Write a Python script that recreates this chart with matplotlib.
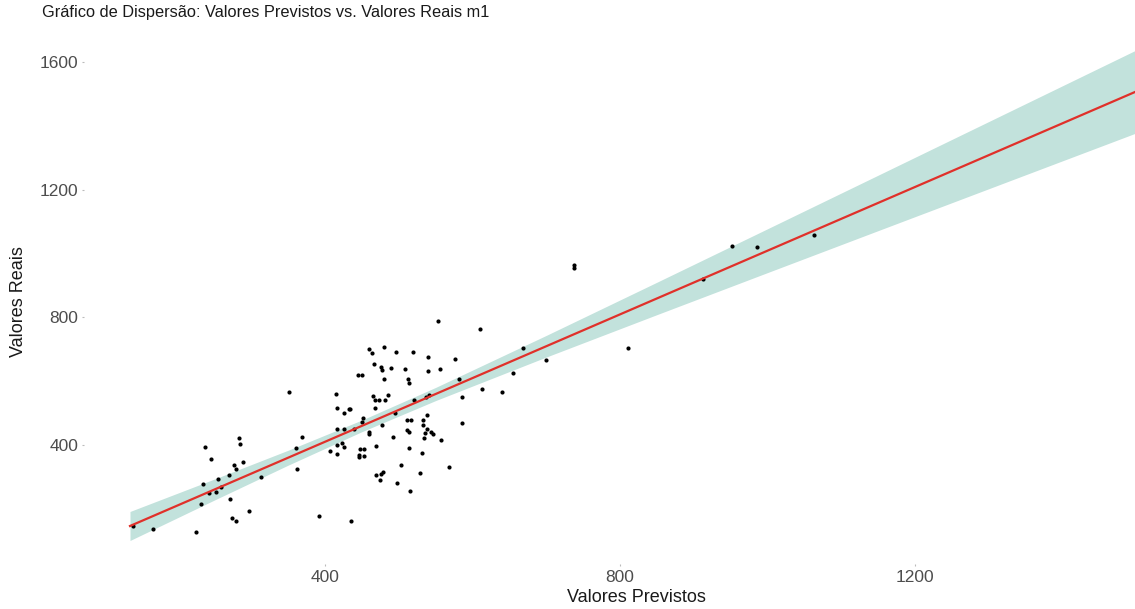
import numpy as np
import matplotlib
matplotlib.use("Agg")
import matplotlib.pyplot as plt

plt.rcParams['font.family'] = ['Liberation Sans', 'DejaVu Sans']

# ---- data ----
pred = [444.3, 350.8, 414.9, 416.7, 432.5, 426.2, 416.7, 425.3, 369.2, 283.4,
        284.3, 236.9, 416.7, 423.0, 425.8, 406.4, 416.7, 361.1, 245.8, 288.4,
        276.2, 279.7, 269.4, 254.5, 312.8, 361.6, 234.6, 259.4, 242.3, 252.6,
        231.9, 271.6, 296.5, 274.3, 278.9, 392.3, 167.2, 225.5, 140.1,
        553.6, 610.6, 460.1, 463.7, 480.4, 496.7, 518.9, 539.2, 575.9, 668.5,
        699.6, 466.4, 475.9, 476.9, 489.1, 508.5, 539.2, 556.3, 450.6, 479.6,
        512.9, 514.3, 581.7, 654.9, 465.5, 467.8, 473.6, 481.3, 485.4, 520.3,
        537.3, 541.4, 586.2, 613.3, 640.4, 467.8, 433.9, 494.9, 451.9, 449.7,
        538.3, 511.2, 516.6, 533.3, 439.3, 476.9, 532.5, 586.2, 460.1, 459.2,
        511.6, 513.9, 538.7, 535.2, 544.1, 546.4, 492.2, 534.6, 556.9, 468.7,
        513.5, 447.4, 453.3, 445.7, 446.5, 453.3, 531.9, 502.6, 567.7, 469.1,
        475.5, 478.6, 474.6, 528.4, 498.0, 515.7, 435.6,
        737.2, 737.2, 951.8, 986.2, 1063.4, 810.4, 912.9]
real = [618.2, 565.8, 560.5, 514.7, 511.6, 501.0, 448.9, 450.8, 424.8, 422.6,
        402.8, 392.5, 398.7, 405.0, 394.4, 381.8, 370.5, 389.3, 354.9, 346.4,
        336.1, 323.5, 305.6, 293.1, 300.3, 324.5, 278.4, 268.0, 248.3, 252.4,
        213.8, 230.4, 193.7, 171.8, 161.4, 176.2, 135.4, 127.0, 145.8,
        788.4, 764.3, 699.7, 688.1, 706.9, 691.2, 691.2, 674.6, 669.3, 704.7,
        666.1, 653.6, 645.1, 635.7, 642.0, 637.0, 631.7, 637.0, 620.1, 606.6,
        606.6, 593.1, 606.6, 624.4, 553.3, 539.8, 539.8, 539.8, 555.5, 539.8,
        549.2, 557.4, 550.2, 574.3, 565.8, 516.6, 512.5, 499.1, 485.3, 471.8,
        492.8, 477.1, 477.1, 477.1, 449.8, 462.4, 461.4, 468.7, 441.4, 435.1,
        447.6, 441.4, 449.8, 438.2, 439.5, 434.2, 423.8, 420.7, 416.3, 396.6,
        390.3, 387.1, 387.1, 367.4, 361.1, 364.3, 373.7, 336.1, 330.7, 306.6,
        308.8, 315.0, 290.0, 311.0, 279.6, 256.4, 161.4,
        965.0, 955.0, 1024.5, 1019.4, 1058.0, 704.7, 919.1]

# fitted line (end points) and confidence half-width at several x
fit_x = [135.6, 1498.3]
fit_y = [145.8, 1506.3]
band_x = [135.6, 250, 350, 450, 550, 700, 850, 1000, 1150, 1300, 1498.3]
band_half = [45.5, 32.9, 23.4, 18.2, 20.6, 33.9, 50.8, 68.7, 86.9, 105.3, 129.8]

x_ticks = [400, 800, 1200]
y_ticks = [400, 800, 1200, 1600]

title = "Gráfico de Dispersão: Valores Previstos vs. Valores Reais m1"
xlabel = "Valores Previstos"
ylabel = "Valores Reais"

# ---- figure ----
W, H = 1135, 609
fig = plt.figure(figsize=(W / 100, H / 100), dpi=100)
left_px, right_px, top_px, bottom_px = 84, 1135, 45, 564
ax = fig.add_axes([left_px / W, 1 - bottom_px / H,
                   (right_px - left_px) / W, (bottom_px - top_px) / H])

# pixel -> data mapping used for limits
def px2x(p):
    return (p - 30) / 0.7375

def py2y(p):
    return (572.5 - p) / 0.319

ax.set_xlim(px2x(left_px), px2x(right_px))
ax.set_ylim(py2y(bottom_px), py2y(top_px))

bx = np.array(band_x)
line_at_band = np.interp(bx, fit_x, fit_y)
hw = np.array(band_half)
ax.fill_between(bx, line_at_band - hw, line_at_band + hw,
                color='#C2E2DC', linewidth=0, zorder=1)
ax.scatter(pred, real, s=9, color='black', linewidths=0, zorder=2)
ax.plot(fit_x, fit_y, color='#E0302A', linewidth=1.6, zorder=3)

for s in ax.spines.values():
    s.set_visible(False)
ax.set_xticks(x_ticks)
ax.set_yticks(y_ticks)
ax.tick_params(axis='both', length=1.5, width=0.8, color='#BBBBBB',
               labelsize=12.5, labelcolor='#4D4D4D', pad=2.5)
ax.grid(False)

fig.text(42 / W, 1 - 13 / H, title, fontsize=11.8, color='#1A1A1A',
         ha='left', va='center')
fig.text(636 / W, 1 - 597 / H, xlabel, fontsize=13, color='#1A1A1A',
         ha='center', va='center')
fig.text(19 / W, 1 - 302 / H, ylabel, fontsize=13, color='#1A1A1A',
         ha='center', va='center', rotation=90)

fig.savefig('out.png', dpi=100)
